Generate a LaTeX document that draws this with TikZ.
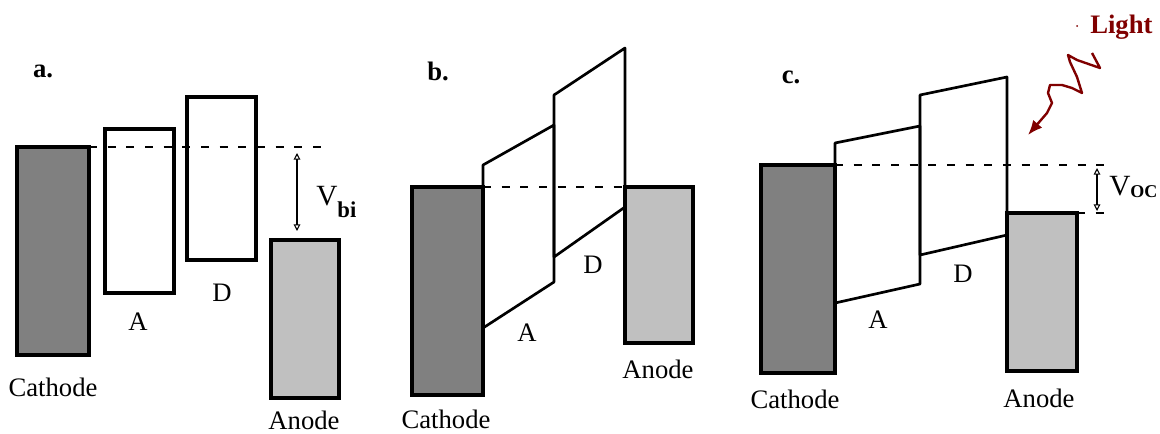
\documentclass[tikz,border=0pt]{standalone}
\usepackage{fontspec}
\setmainfont{Liberation Serif}
\usetikzlibrary{arrows.meta}
\definecolor{CathodeGray}{RGB}{128,128,128}
\definecolor{AnodeGray}{RGB}{192,192,192}
\definecolor{LightRed}{RGB}{128,0,0}

\begin{document}
\begin{tikzpicture}[x=0.75pt,y=-0.75pt,
    electrode/.style={line width=2.4pt},
    level/.style={line width=2pt,line join=round},
    fermi/.style={line width=0.8pt,dash pattern=on 6pt off 8pt},
    volt/.style={line width=0.8pt,>={Triangle[open,length=5pt,width=5pt]},<->},
    lbl/.style={font=\fontsize{20}{22}\selectfont,inner sep=0pt},
    tag/.style={font=\fontsize{20}{22}\selectfont\bfseries,inner sep=0pt}]
  \useasboundingbox (0,0) rectangle (1160,433);

  % a. flat bands
  \node[tag] (tagA) at (43,71) {a.};
  \draw[electrode,fill=CathodeGray] (17,147) rectangle (89,355);
  \draw[electrode] (105,129) rectangle (174,293);
  \draw[electrode] (187,97) rectangle (256,260);
  \draw[electrode,fill=AnodeGray] (271,240) rectangle (339,398);
  \draw[fermi] (89,147) -- (328,147);
  \coordinate (vbiTop) at (297,153);
  \coordinate (vbiBot) at (297,231);
  \draw[volt] (vbiTop) -- (vbiBot);
  \node[lbl,anchor=base west] (vbi) at (316,205)
    {\fontsize{22}{22}\selectfont V\raisebox{-9pt}{\fontsize{17}{17}\selectfont\bfseries bi}};
  \node[lbl] (accA) at (138,322) {A};
  \node[lbl] (donA) at (222,293) {D};
  \node[lbl] (cathA) at (53,387) {Cathode};
  \node[lbl] (anodeA) at (304,420) {Anode};

  % b. short circuit
  \node[tag] (tagB) at (438,71) {b.};
  \draw[electrode,fill=CathodeGray] (412,187) rectangle (483,395);
  \draw[electrode,fill=AnodeGray] (625,187) rectangle (693,343);
  \draw[level] (483,165) -- (554,125) -- (554,282) -- (483,328) -- cycle;
  \draw[level] (554,95) -- (625,48) -- (625,207) -- (554,257) -- cycle;
  \draw[fermi] (483,187) -- (625,187);
  \node[lbl] (accB) at (527,333) {A};
  \node[lbl] (donB) at (593,265) {D};
  \node[lbl] (cathB) at (446,419) {Cathode};
  \node[lbl] (anodeB) at (658,369) {Anode};

  % c. open circuit under light
  \node[tag] (tagC) at (791,77) {c.};
  \draw[electrode,fill=CathodeGray] (761,165) rectangle (835,373);
  \draw[electrode,fill=AnodeGray] (1007,213) rectangle (1077,371);
  \draw[level] (835,143) -- (920,126) -- (920,284) -- (835,303) -- cycle;
  \draw[level] (920,95) -- (1007,77) -- (1007,235) -- (920,255) -- cycle;
  \draw[fermi] (835,165) -- (1110,165);
  \draw[fermi] (1077,213) -- (1110,213);
  \coordinate (vocTop) at (1097,168);
  \coordinate (vocBot) at (1097,211);
  \draw[volt] (vocTop) -- (vocBot);
  \node[lbl,anchor=base west] (voc) at (1109,195)
    {\fontsize{22}{22}\selectfont V\raisebox{-2pt}{\fontsize{13.5}{14}\selectfont\bfseries OC}};
  \node[lbl] (accC) at (878,320) {A};
  \node[lbl] (donC) at (963,274) {D};
  \node[lbl] (cathC) at (795,399) {Cathode};
  \node[lbl] (anodeC) at (1039,398) {Anode};

  \fill[LightRed] (1077,26) circle (1);
  \node[tag,text=LightRed,anchor=base west] (light) at (1090,33) {Light};
  \draw[LightRed,line width=1.8pt,line join=round,-{Latex[length=11pt,width=9pt]}]
    (1092,53) -- (1100,68) -- (1077,60) -- (1068,55) -- (1070,62) -- (1077,77)
    -- (1082,93) -- (1072,88) -- (1062,85) -- (1050,85) -- (1048,93)
    -- (1052,103) -- (1047,113) -- (1028,135);
\end{tikzpicture}
\end{document}
